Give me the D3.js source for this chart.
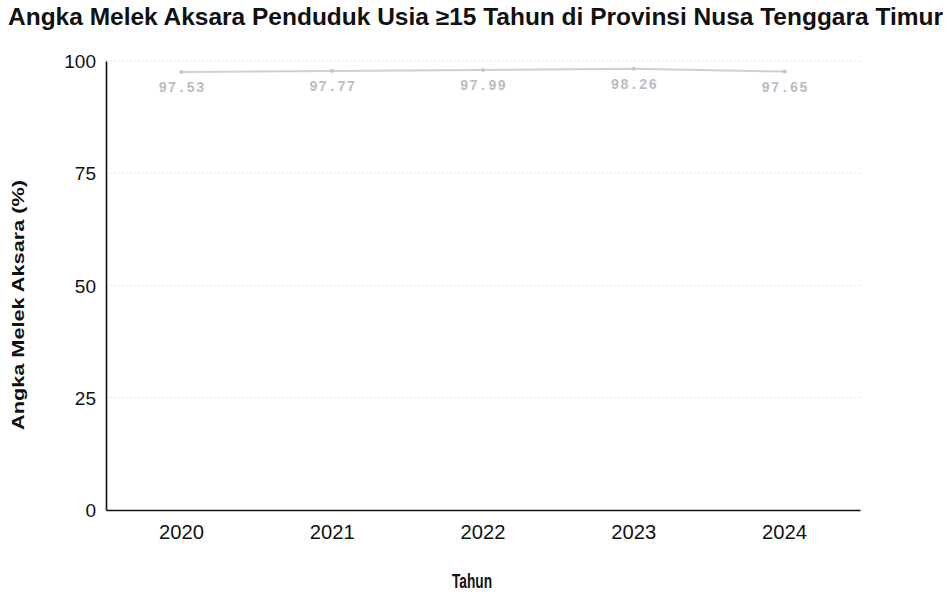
<!DOCTYPE html>
<html>
<head>
<meta charset="utf-8">
<script src="https://cdn.jsdelivr.net/npm/d3@7"></script>
<style>
  body { margin: 0; background: #fff; }
  svg { display: block; }
</style>
</head>
<body>
<div id="chart-area"></div>
<script>
// data
const years = ["2020", "2021", "2022", "2023", "2024"];
const values = [97.53, 97.77, 97.99, 98.26, 97.65];
const yTicks = [0, 25, 50, 75, 100];

const W = 947, H = 594;
const margin = {top: 61, right: 87, bottom: 84, left: 106};
const width = W - margin.left - margin.right,
      height = H - margin.top - margin.bottom;

const svg = d3.select("#chart-area").append("svg")
    .attr("width", W)
    .attr("height", H);

const g = svg.append("g")
    .attr("transform", "translate(" + margin.left + "," + margin.top + ")");

const x = d3.scaleBand().domain(years).range([0, width]).padding(0);
const y = d3.scaleLinear().domain([0, 100]).range([height, 0]);

const sans = "'Liberation Sans', Arial, sans-serif";

// gridlines
g.selectAll(".grid")
    .data(yTicks.filter(d => d > 0))
    .enter().append("line")
    .attr("class", "grid")
    .attr("x1", 0).attr("x2", width)
    .attr("y1", d => y(d)).attr("y2", d => y(d))
    .attr("stroke", "#e2e2e2")
    .attr("stroke-dasharray", "2,2");

// y axis
const yAxis = g.append("g")
    .call(d3.axisLeft(y).tickValues(yTicks).tickSize(0).tickPadding(10));
yAxis.select(".domain").attr("stroke", "#111").attr("stroke-width", 1.6);
yAxis.selectAll("text")
    .attr("font-family", sans)
    .attr("font-size", 19)
    .attr("fill", "#111")
    .attr("dy", "0.35em");

// x axis
const xAxis = g.append("g")
    .attr("transform", "translate(0," + height + ")")
    .call(d3.axisBottom(x).tickSize(0).tickPadding(14));
xAxis.select(".domain").attr("stroke", "#111").attr("stroke-width", 1.6);
xAxis.selectAll("text")
    .attr("font-family", sans)
    .attr("font-size", 21)
    .attr("textLength", 45)
    .attr("lengthAdjust", "spacingAndGlyphs")
    .attr("fill", "#111");

// line
const line = d3.line()
    .x((d, i) => x(years[i]) + x.bandwidth() / 2)
    .y(d => y(d));

g.append("path")
    .datum(values)
    .attr("d", line)
    .attr("fill", "none")
    .attr("stroke", "#cfcfd4")
    .attr("stroke-width", 2);

g.selectAll(".pt")
    .data(values)
    .enter().append("circle")
    .attr("class", "pt")
    .attr("cx", (d, i) => x(years[i]) + x.bandwidth() / 2)
    .attr("cy", d => y(d))
    .attr("r", 2)
    .attr("fill", "#c4c4ca");

// value labels
g.selectAll(".val")
    .data(values)
    .enter().append("text")
    .attr("class", "val")
    .attr("x", (d, i) => x(years[i]) + x.bandwidth() / 2)
    .attr("y", d => y(d) + 20)
    .attr("text-anchor", "middle")
    .attr("font-family", "'Liberation Mono', 'DejaVu Sans Mono', monospace")
    .attr("font-size", 14)
    .attr("font-weight", "bold")
    .attr("textLength", 46)
    .attr("lengthAdjust", "spacing")
    .attr("fill", "#bcbcc4")
    .text(d => d.toFixed(2));

// title
svg.append("text")
    .attr("x", 8)
    .attr("y", 25)
    .attr("font-family", sans)
    .attr("font-weight", "bold")
    .attr("font-size", 23)
    .attr("textLength", 935)
    .attr("lengthAdjust", "spacingAndGlyphs")
    .attr("fill", "#111")
    .text("Angka Melek Aksara Penduduk Usia ≥15 Tahun di Provinsi Nusa Tenggara Timur");

// axis titles
svg.append("text")
    .attr("transform", "translate(24,305) rotate(-90)")
    .attr("text-anchor", "middle")
    .attr("font-family", sans)
    .attr("font-weight", "bold")
    .attr("font-size", 17)
    .attr("textLength", 250)
    .attr("lengthAdjust", "spacingAndGlyphs")
    .attr("fill", "#111")
    .text("Angka Melek Aksara  (%)");

svg.append("text")
    .attr("x", 472)
    .attr("y", 588)
    .attr("text-anchor", "middle")
    .attr("font-family", sans)
    .attr("font-weight", "bold")
    .attr("font-size", 20)
    .attr("textLength", 40)
    .attr("lengthAdjust", "spacingAndGlyphs")
    .attr("fill", "#111")
    .text("Tahun");
</script>
</body>
</html>
